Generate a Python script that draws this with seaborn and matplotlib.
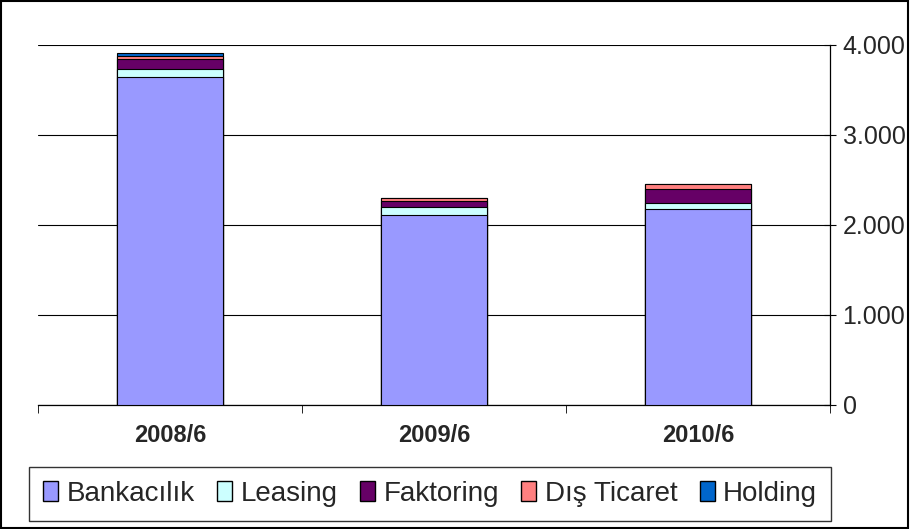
import matplotlib
matplotlib.use("Agg")
import matplotlib.pyplot as plt
import matplotlib.ticker as mticker
from matplotlib.patches import Patch, Rectangle
import seaborn as sns
import pandas as pd
import numpy as np

periods = ["2008/6", "2009/6", "2010/6"]
series = ["Bankacılık", "Leasing", "Faktoring", "Dış Ticaret", "Holding"]
bankacilik = [3640, 2115, 2180]
leasing = [90, 90, 70]
faktoring = [110, 65, 145]
dis_ticaret = [35, 30, 60]
holding = [35, 0, 0]
colors = ["#9999FF", "#CCFFFF", "#660066", "#FF8080", "#0066CC"]

values = [bankacilik, leasing, faktoring, dis_ticaret, holding]
cum = np.cumsum(np.array(values), axis=0)

sns.set_style("white")
plt.rcParams["font.family"] = ["Liberation Sans", "DejaVu Sans"]

fig = plt.figure(figsize=(9.1, 5.29), dpi=100)
ax = fig.add_axes([38 / 910, 124 / 529, 792 / 910, 360 / 529])

# draw cumulative totals from the top layer down so each segment shows
for i in reversed(range(len(series))):
    df = pd.DataFrame({"period": periods, "value": cum[i]})
    sns.barplot(data=df, x="period", y="value", color=colors[i], width=0.4,
                edgecolor="black", linewidth=0.8, saturation=1, ax=ax, zorder=3)

ax.set_ylim(0, 4000)
ax.set_xlim(-0.5, 2.5)
ax.yaxis.tick_right()
ax.yaxis.set_major_locator(mticker.MultipleLocator(1000))
ax.yaxis.set_major_formatter(mticker.FuncFormatter(
    lambda v, p: "0" if v == 0 else f"{int(v):,}".replace(",", ".")))
ax.grid(axis="y", color="black", linewidth=0.8, zorder=0)
ax.set_axisbelow(True)
for s in ["top", "left"]:
    ax.spines[s].set_visible(False)
for s in ["right", "bottom"]:
    ax.spines[s].set_color("black")
    ax.spines[s].set_linewidth(0.9)
ax.tick_params(axis="y", direction="inout", length=8, color="black", labelsize=18, pad=5, right=True)
ax.set_xticks([0, 1, 2])
ax.set_xticklabels(periods, fontweight="bold", fontsize=17)
ax.xaxis.set_minor_locator(mticker.FixedLocator([-0.5, 0.5, 1.5, 2.5]))
ax.tick_params(axis="x", which="major", length=0, pad=14)
ax.tick_params(axis="x", which="minor", direction="out", length=6, color="black", bottom=True)
ax.set_xlabel("")
ax.set_ylabel("")

handles = [Patch(facecolor=c, edgecolor="black", label=l) for c, l in zip(colors, series)]
leg = fig.legend(handles=handles, loc="center", bbox_to_anchor=(430 / 910, 1 - 494 / 529),
                 ncol=5, frameon=True, fancybox=False, fontsize=20, handlelength=0.55,
                 handleheight=0.75, handletextpad=0.3, columnspacing=0.8, borderpad=0.5)
leg.get_frame().set_edgecolor("black")
leg.get_frame().set_linewidth(1)

fig.patches.append(Rectangle((0.001, 0.001), 0.997, 0.997, transform=fig.transFigure,
                             fill=False, edgecolor="black", linewidth=1.5))

fig.savefig("out.png", dpi=100)
